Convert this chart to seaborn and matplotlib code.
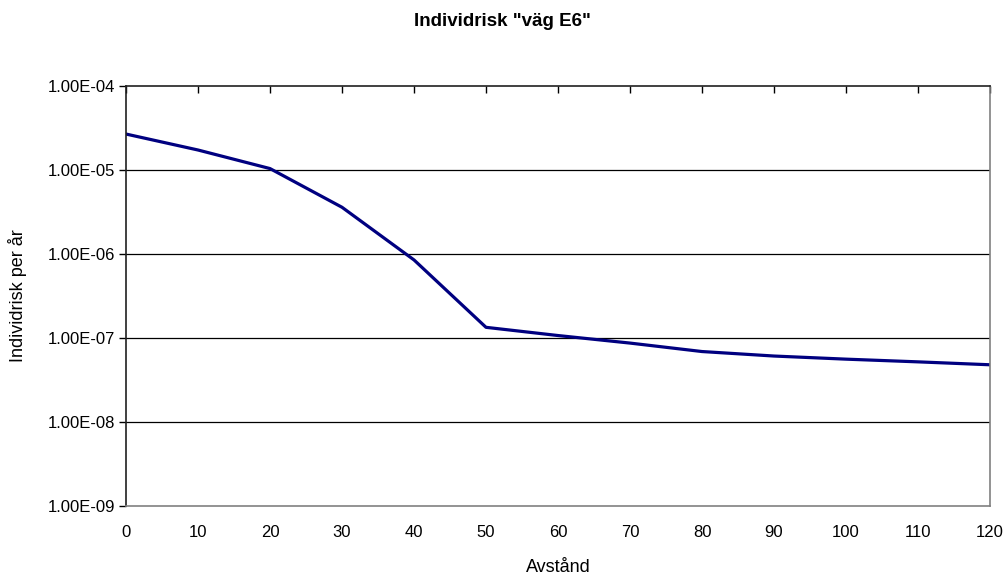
import matplotlib
matplotlib.use("Agg")
import matplotlib.pyplot as plt
import matplotlib.ticker as mticker
import seaborn as sns
import pandas as pd

distance = [0, 10, 20, 30, 40, 50, 60, 70, 80, 90, 100, 110, 120]
risk = [2.68e-5, 1.73e-5, 1.04e-5, 3.6e-6, 8.5e-7, 1.34e-7, 1.07e-7,
        8.7e-8, 6.9e-8, 6.1e-8, 5.6e-8, 5.2e-8, 4.8e-8]
title = 'Individrisk "väg E6"'
xlabel = "Avstånd"
ylabel = "Individrisk per år"
y_ticks = [1e-9, 1e-8, 1e-7, 1e-6, 1e-5, 1e-4]

sns.set_style("white")
plt.rcParams["font.family"] = ["Liberation Sans", "DejaVu Sans"]
plt.rcParams.update({"text.color": "black", "axes.labelcolor": "black",
                     "xtick.color": "black", "ytick.color": "black"})

df = pd.DataFrame({"distance": distance, "risk": risk})

fig = plt.figure(figsize=(10.04, 5.77), dpi=100)
L, R, T, B = 126, 990, 86, 506
ax = fig.add_axes([L/1004, 1 - B/577, (R-L)/1004, (B-T)/577])

sns.lineplot(data=df, x="distance", y="risk", ax=ax, color="#000080", linewidth=2.3)

ax.set_yscale("log")
ax.set_ylim(1e-9, 1e-4)
ax.set_xlim(0, 120)
ax.yaxis.set_major_locator(mticker.FixedLocator(y_ticks))
ax.yaxis.set_minor_locator(mticker.NullLocator())
ax.yaxis.set_major_formatter(mticker.FuncFormatter(lambda v, p: f"{v:.2E}"))
ax.xaxis.set_major_locator(mticker.MultipleLocator(10))

for y in y_ticks[1:-1]:
    ax.axhline(y, color="black", linewidth=0.9, zorder=0)

ax.spines["top"].set_color("#202020")
ax.spines["left"].set_color("#202020")
ax.spines["bottom"].set_color("#808080")
ax.spines["right"].set_color("#808080")
for side in ["left", "bottom", "right", "top"]:
    ax.spines[side].set_linewidth(1.2)

ax.tick_params(axis="x", which="major", top=True, bottom=False, labelbottom=True,
               direction="in", length=5, width=1, color="black", labelsize=12, pad=14)
ax.tick_params(axis="y", which="major", left=True, direction="out", length=5, width=1,
               color="black", labelsize=12, pad=3)

ax.set_xlabel(xlabel, fontsize=13)
ax.set_ylabel(ylabel, fontsize=13)
ax.xaxis.label.set_va("center")
ax.yaxis.label.set_va("center")
ax.xaxis.set_label_coords(0.5, (B - 568) / (B - T))
ax.yaxis.set_label_coords((18 - L) / (R - L), 0.5)

fig.text(0.5, 1 - 22/577, title, ha="center", va="center", fontsize=13.5, fontweight="bold")

fig.savefig("out.png", dpi=100, facecolor="white")
